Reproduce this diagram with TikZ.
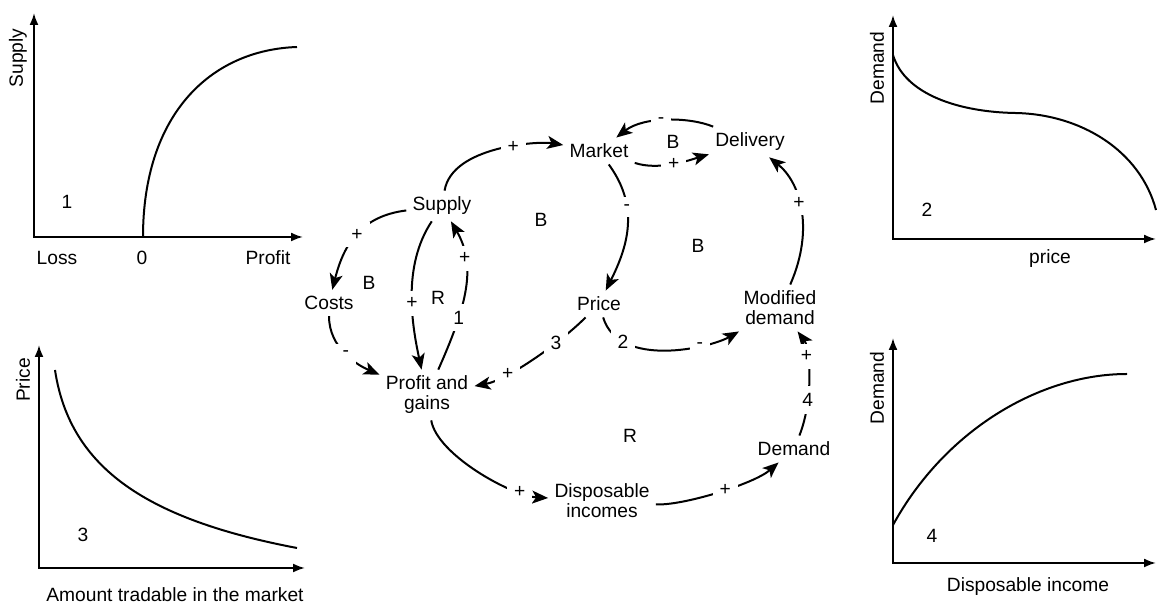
\documentclass[tikz,border=0pt]{standalone}
\usepackage{fontspec}
\setmainfont{Liberation Sans}
\usetikzlibrary{arrows.meta}

\begin{document}
\begin{tikzpicture}[x=0.5pt, y=-0.5pt, font=\fontsize{9.6}{10}\selectfont,
    var/.style={align=center, inner sep=3pt},
    sign/.style={fill=white, inner sep=3.5pt},
    link/.style={line width=1pt, -{Stealth[length=8pt, width=6.5pt, inset=2pt]}},
    axis/.style={line width=1pt, {Latex[length=6pt, width=4.5pt]}-{Latex[length=6pt, width=4.5pt]}},
    curve/.style={line width=1pt}]
    \useasboundingbox (0,0) rectangle (1158,603);

    % Graph 1: supply vs profit
    \draw[axis] (34,13) -- (34,237) -- (303,237);
    \draw[curve] (143,237) .. controls (143,115) and (210,50) .. (297,47);
    \node[rotate=90] (g1y) at (18,58) {Supply};
    \node (g1n) at (67,202) {1};
    \node (g1loss) at (57,258) {Loss};
    \node (g1zero) at (142,258) {0};
    \node (g1profit) at (268,258) {Profit};

    % Graph 3: price vs amount
    \draw[axis] (39,345) -- (39,568) -- (305,568);
    \draw[curve] (55,370) .. controls (70,470) and (150,520) .. (297,548);
    \node[rotate=90] (g3y) at (23,380) {Price};
    \node (g3n) at (83,535) {3};
    \node (g3x) at (175,595) {Amount tradable in the market};

    % Graph 2: demand vs price
    \draw[axis] (893,15) -- (893,239) -- (1156,239);
    \draw[curve] (893,55) .. controls (905,95) and (960,112) .. (1015,113)
        .. controls (1080,114) and (1140,150) .. (1156,210);
    \node[rotate=90] (g2y) at (877,68) {Demand};
    \node (g2n) at (927,210) {2};
    \node (g2x) at (1050,259) {price};

    % Graph 4: demand vs disposable income
    \draw[axis] (893,338) -- (893,563) -- (1156,563);
    \draw[curve] (893,525) .. controls (945,430) and (1040,374) .. (1127,374);
    \node[rotate=90] (g4y) at (877,388) {Demand};
    \node (g4n) at (932,536) {4};
    \node (g4x) at (1028,587) {Disposable income};

    % Variables
    \node[var] (supply) at (442,206) {Supply};
    \node[var] (market) at (599,151) {Market};
    \node[var] (delivery) at (750,142) {Delivery};
    \node[var] (costs) at (329,303) {Costs};
    \node[var] (profit) at (427,395) {Profit and\\gains};
    \node[var] (price) at (599,304) {Price};
    \node[var] (moddem) at (780,308) {Modified\\demand};
    \node[var] (demand) at (794,449) {Demand};
    \node[var] (dispinc) at (602,501) {Disposable\\incomes};

    % Loop types
    \node (loopa) at (541,220) {B};
    \node (loopb) at (369,283) {B};
    \node (loopc) at (438,298) {R};
    \node (loopd) at (673,142) {B};
    \node (loope) at (698,246) {B};
    \node (loopf) at (630,436) {R};

    % Links
    \draw[link] (supply) .. controls +(10,-60) and +(-60,-10) .. node[sign, pos=0.6] (s1) {+} (market);
    \draw[link] (supply) .. controls +(-80,10) and +(15,-60) .. node[sign, pos=0.5] (s2) {+} (costs);
    \draw[link] (supply) .. controls +(-40,60) and +(-15,-70) .. node[sign, pos=0.55] (s3) {+} (profit);
    \draw[link] (profit) .. controls +(40,-90) and +(35,60) .. node[sign, pos=0.3] (s4) {1} node[sign, pos=0.72] (s5) {+} (supply);
    \draw[link] (costs) .. controls +(0,45) and +(-70,-30) .. node[sign, pos=0.5] (s6) {-} (profit);
    \draw[link] (price) .. controls +(-40,40) and +(80,-15) .. node[sign, pos=0.3] (s7) {3} node[sign, pos=0.7] (s8) {+} (profit);
    \draw[link] (price) .. controls +(20,65) and +(-70,40) .. node[sign, pos=0.22] (s9) {2} node[sign, pos=0.7] (s10) {-} (moddem);
    \draw[link] (market) .. controls +(40,55) and +(30,-60) .. node[sign, pos=0.35] (s11) {-} (price);
    \draw[link] (market) .. controls +(60,20) and +(-60,18) .. node[sign, pos=0.5] (s12) {+} (delivery);
    \draw[link] (delivery) .. controls +(-60,-25) and +(45,-35) .. node[sign, pos=0.55] (s13) {-} (market);
    \draw[link] (moddem) .. controls +(35,-80) and +(50,40) .. node[sign, pos=0.55] (s14) {+} (delivery);
    \draw[link] (demand) .. controls +(20,-50) and +(30,40) .. node[sign, pos=0.3] (s15) {4} node[sign, pos=0.68] (s16) {+} (moddem);
    \draw[link] (profit) .. controls +(10,60) and +(-90,-5) .. node[sign, pos=0.78] (s17) {+} (dispinc);
    \draw[link] (dispinc) .. controls +(80,5) and +(-40,35) .. node[sign, pos=0.55] (s18) {+} (demand);
\end{tikzpicture}
\end{document}
